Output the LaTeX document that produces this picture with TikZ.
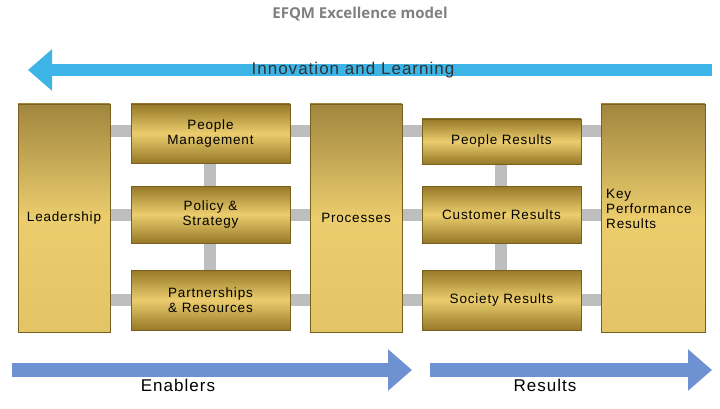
\documentclass[tikz,border=0pt]{standalone}
\usepackage{fontspec}
\setmainfont{Liberation Sans}[LetterSpace=6]
\newfontfamily\titlefont{Open Sans}
\usetikzlibrary{arrows.meta}
\definecolor{goldD}{RGB}{150,120,40}
\definecolor{goldL}{RGB}{235,205,110}
\definecolor{linkg}{RGB}{190,190,190}
\definecolor{cyanA}{RGB}{60,180,230}
\definecolor{blueA}{RGB}{110,145,210}
\tikzset{
 box/.style={draw=goldD!80!black,line width=0.4pt,top color=goldD,bottom color=goldD,middle color=goldL,align=center,font=\fontsize{13.5}{15}\selectfont,inner sep=0pt},
 tall/.style={box,minimum height=228pt,top color=goldD!90,bottom color=goldL!90!goldD,middle color=goldL},
 link/.style={draw=linkg,line width=12pt},
 bigarrow/.style={line width=14pt,-{Triangle[length=24pt,width=40pt]}},
}
\begin{document}
\begin{tikzpicture}[x=1pt,y=-1pt]
\useasboundingbox (0,0) rectangle (720,409);
\node[font=\titlefont\bfseries\fontsize{15}{17}\selectfont,text=gray] (title) at (360,14) {EFQM Excellence model};
% links
\coordinate (l1a) at (110,131); \coordinate (l1b) at (601,131);
\coordinate (l2a) at (110,215); \coordinate (l2b) at (601,215);
\coordinate (l3a) at (110,300); \coordinate (l3b) at (601,300);
\coordinate (v1a) at (210,150); \coordinate (v1b) at (210,290);
\coordinate (v2a) at (501,150); \coordinate (v2b) at (501,290);
\draw[link] (l1a)--(l1b); \draw[link] (l2a)--(l2b); \draw[link] (l3a)--(l3b);
\draw[link] (v1a)--(v1b); \draw[link] (v2a)--(v2b);
% boxes
\node[tall,minimum width=92pt] (lead) at (64,218) {Leadership};
\node[box,minimum width=159pt,minimum height=59pt] (pm) at (210.5,133.5) {People\\Management};
\node[box,minimum width=159pt,minimum height=57pt] (ps) at (210.5,214.5) {Policy \&\\Strategy};
\node[box,minimum width=159pt,minimum height=60pt] (pr) at (210.5,300) {Partnerships\\\& Resources};
\node[tall,minimum width=92pt] (proc) at (356,218) {Processes};
\node[box,minimum width=159pt,minimum height=45pt] (peor) at (501.5,141.5) {People Results};
\node[box,minimum width=159pt,minimum height=57pt] (cr) at (501.5,214.5) {Customer Results};
\node[box,minimum width=159pt,minimum height=60pt] (sr) at (501.5,300) {Society Results};
\node[tall,minimum width=104pt] (kpr) at (653,218) {};
\node[anchor=west,align=left,font=\fontsize{13.5}{15}\selectfont,inner sep=0pt] (kprt) at (606,209) {Key\\Performance\\Results};
% arrows
\coordinate (ta) at (712,70); \coordinate (tb) at (28,70);
\draw[bigarrow,draw=cyanA,fill=cyanA,line width=12pt] (ta)--(tb);
\node[font=\fontsize{17}{18}\selectfont,text=black!80] (inl) at (353,70) {Innovation and Learning};
\coordinate (ea) at (12,370); \coordinate (eb) at (412,370);
\draw[bigarrow,draw=blueA,fill=blueA] (ea)--(eb);
\coordinate (ra) at (430,370); \coordinate (rb) at (712,370);
\draw[bigarrow,draw=blueA,fill=blueA] (ra)--(rb);
\node[font=\fontsize{17}{18}\selectfont] (en) at (178,385) {Enablers};
\node[font=\fontsize{17}{18}\selectfont] (re) at (545,385) {Results};
\end{tikzpicture}
\end{document}
